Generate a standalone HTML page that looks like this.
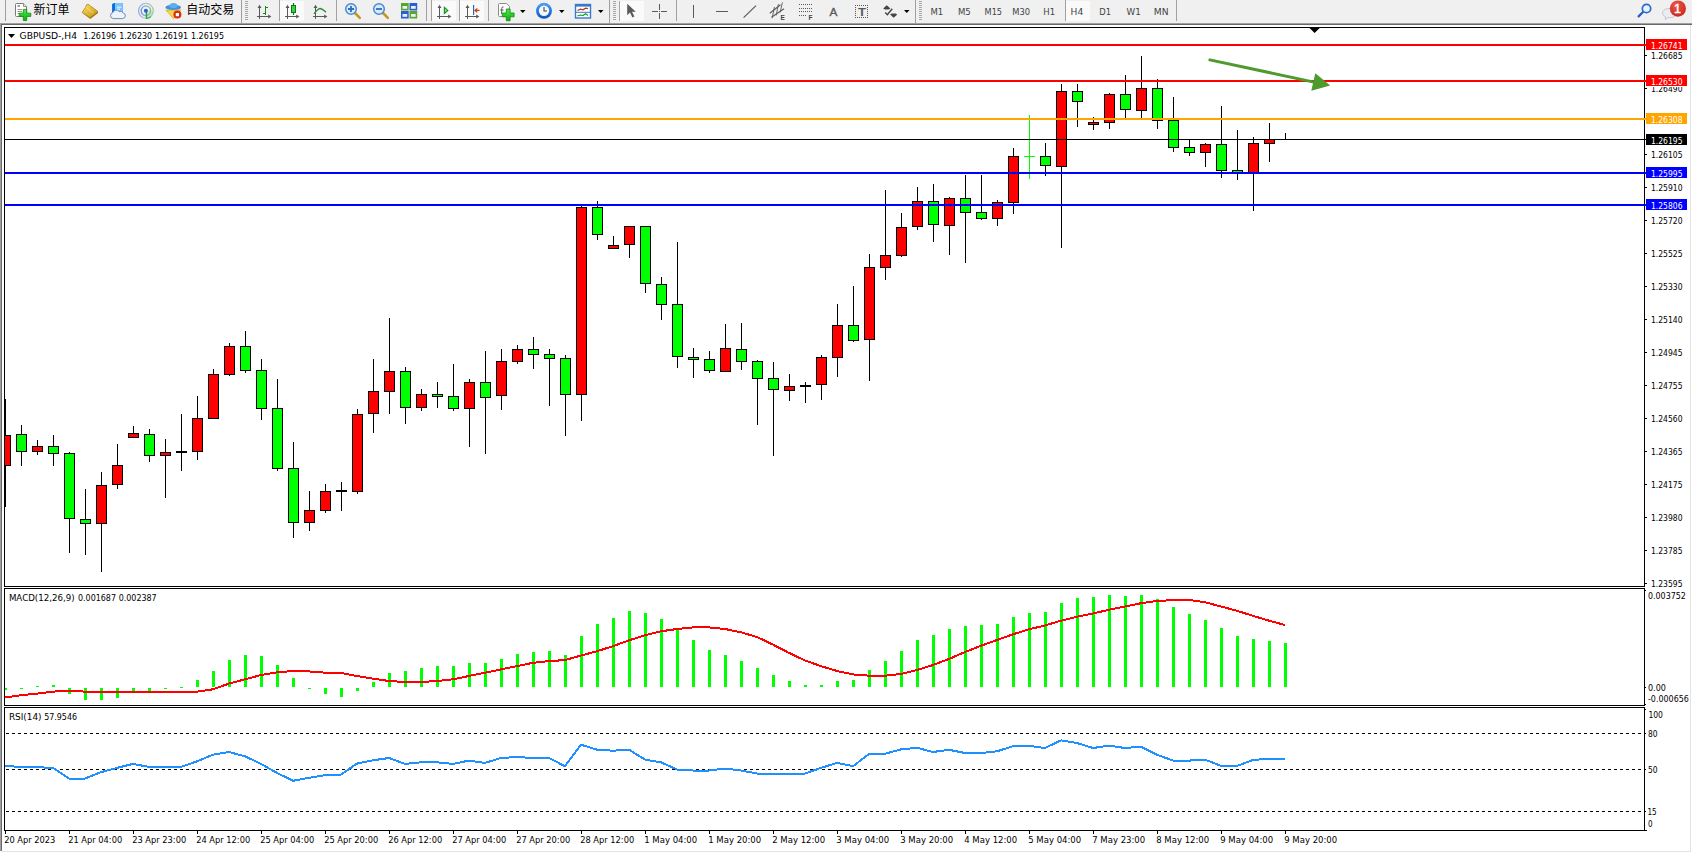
<!DOCTYPE html>
<html><head><meta charset="utf-8"><title>GBPUSD-,H4</title>
<style>
html,body{margin:0;padding:0;background:#fff}
body{width:1692px;height:853px;overflow:hidden;position:relative}
svg{position:absolute;left:0;top:0;display:block}
text{font-family:"Liberation Sans","Noto Sans CJK SC",sans-serif;white-space:pre}
.s{font-family:"DejaVu Sans Condensed","Liberation Sans",sans-serif}
.px{shape-rendering:crispEdges}
</style></head><body>
<svg width="1692" height="853" viewBox="0 0 1692 853">
<g class="px">
<rect x="0" y="0" width="1692" height="23" fill="#f0f0f0"/>
<rect x="0" y="23" width="1692" height="1" fill="#a0a0a0"/>
<rect x="0" y="24" width="1692" height="1" fill="#696969"/>
<rect x="0" y="23" width="1" height="828" fill="#a0a0a0"/>
<rect x="1" y="24" width="1" height="827" fill="#696969"/>
<rect x="1690" y="25" width="1" height="827" fill="#e3e3e3"/>
<rect x="2" y="851" width="1689" height="1" fill="#e3e3e3"/>
<rect x="4" y="27" width="1" height="804" fill="#000"/>
<rect x="4" y="27" width="1641" height="1" fill="#000"/>
<rect x="1644" y="27" width="1" height="804" fill="#000"/>
<rect x="4" y="586" width="1641" height="1" fill="#000"/>
<rect x="4" y="588" width="1641" height="1" fill="#000"/>
<rect x="4" y="705" width="1641" height="1" fill="#000"/>
<rect x="4" y="707" width="1641" height="1" fill="#000"/>
<rect x="4" y="830" width="1643" height="1" fill="#000"/>
<rect x="4" y="587" width="1" height="1" fill="#fff"/>
<rect x="1644" y="587" width="1" height="1" fill="#fff"/>
<rect x="4" y="706" width="1" height="1" fill="#fff"/>
<rect x="1644" y="706" width="1" height="1" fill="#fff"/>
<polygon points="1309.5,28 1319.7,28 1314.6,33.1" fill="#000" shape-rendering="auto"/>
<rect x="5" y="399" width="1" height="108" fill="#000"/>
<rect x="5" y="435" width="6" height="31" fill="#000"/>
<rect x="5" y="436" width="5" height="29" fill="#ff0000"/>
<rect x="21" y="425" width="1" height="41" fill="#000"/>
<rect x="16" y="434" width="11" height="18" fill="#000"/>
<rect x="17" y="435" width="9" height="16" fill="#00ff00"/>
<rect x="37" y="440" width="1" height="15" fill="#000"/>
<rect x="32" y="446" width="11" height="6" fill="#000"/>
<rect x="33" y="447" width="9" height="4" fill="#ff0000"/>
<rect x="53" y="435" width="1" height="31" fill="#000"/>
<rect x="48" y="446" width="11" height="8" fill="#000"/>
<rect x="49" y="447" width="9" height="6" fill="#00ff00"/>
<rect x="69" y="452" width="1" height="101" fill="#000"/>
<rect x="64" y="453" width="11" height="66" fill="#000"/>
<rect x="65" y="454" width="9" height="64" fill="#00ff00"/>
<rect x="85" y="489" width="1" height="66" fill="#000"/>
<rect x="80" y="519" width="11" height="5" fill="#000"/>
<rect x="81" y="520" width="9" height="3" fill="#00ff00"/>
<rect x="101" y="472" width="1" height="100" fill="#000"/>
<rect x="96" y="485" width="11" height="39" fill="#000"/>
<rect x="97" y="486" width="9" height="37" fill="#ff0000"/>
<rect x="117" y="444" width="1" height="45" fill="#000"/>
<rect x="112" y="465" width="11" height="20" fill="#000"/>
<rect x="113" y="466" width="9" height="18" fill="#ff0000"/>
<rect x="133" y="426" width="1" height="12" fill="#000"/>
<rect x="128" y="433" width="11" height="5" fill="#000"/>
<rect x="129" y="434" width="9" height="3" fill="#ff0000"/>
<rect x="149" y="429" width="1" height="33" fill="#000"/>
<rect x="144" y="434" width="11" height="22" fill="#000"/>
<rect x="145" y="435" width="9" height="20" fill="#00ff00"/>
<rect x="165" y="439" width="1" height="59" fill="#000"/>
<rect x="160" y="452" width="11" height="4" fill="#000"/>
<rect x="161" y="453" width="9" height="2" fill="#ff0000"/>
<rect x="181" y="414" width="1" height="57" fill="#000"/>
<rect x="176" y="451" width="11" height="2" fill="#000"/>
<rect x="197" y="396" width="1" height="64" fill="#000"/>
<rect x="192" y="418" width="11" height="34" fill="#000"/>
<rect x="193" y="419" width="9" height="32" fill="#ff0000"/>
<rect x="213" y="369" width="1" height="50" fill="#000"/>
<rect x="208" y="374" width="11" height="45" fill="#000"/>
<rect x="209" y="375" width="9" height="43" fill="#ff0000"/>
<rect x="229" y="343" width="1" height="33" fill="#000"/>
<rect x="224" y="346" width="11" height="29" fill="#000"/>
<rect x="225" y="347" width="9" height="27" fill="#ff0000"/>
<rect x="245" y="331" width="1" height="42" fill="#000"/>
<rect x="240" y="346" width="11" height="25" fill="#000"/>
<rect x="241" y="347" width="9" height="23" fill="#00ff00"/>
<rect x="261" y="359" width="1" height="61" fill="#000"/>
<rect x="256" y="370" width="11" height="39" fill="#000"/>
<rect x="257" y="371" width="9" height="37" fill="#00ff00"/>
<rect x="277" y="379" width="1" height="92" fill="#000"/>
<rect x="272" y="408" width="11" height="61" fill="#000"/>
<rect x="273" y="409" width="9" height="59" fill="#00ff00"/>
<rect x="293" y="442" width="1" height="96" fill="#000"/>
<rect x="288" y="468" width="11" height="55" fill="#000"/>
<rect x="289" y="469" width="9" height="53" fill="#00ff00"/>
<rect x="309" y="491" width="1" height="40" fill="#000"/>
<rect x="304" y="510" width="11" height="13" fill="#000"/>
<rect x="305" y="511" width="9" height="11" fill="#ff0000"/>
<rect x="325" y="484" width="1" height="29" fill="#000"/>
<rect x="320" y="491" width="11" height="20" fill="#000"/>
<rect x="321" y="492" width="9" height="18" fill="#ff0000"/>
<rect x="341" y="482" width="1" height="29" fill="#000"/>
<rect x="336" y="490" width="11" height="2" fill="#000"/>
<rect x="357" y="409" width="1" height="85" fill="#000"/>
<rect x="352" y="414" width="11" height="78" fill="#000"/>
<rect x="353" y="415" width="9" height="76" fill="#ff0000"/>
<rect x="373" y="359" width="1" height="74" fill="#000"/>
<rect x="368" y="391" width="11" height="23" fill="#000"/>
<rect x="369" y="392" width="9" height="21" fill="#ff0000"/>
<rect x="389" y="318" width="1" height="96" fill="#000"/>
<rect x="384" y="371" width="11" height="21" fill="#000"/>
<rect x="385" y="372" width="9" height="19" fill="#ff0000"/>
<rect x="405" y="367" width="1" height="57" fill="#000"/>
<rect x="400" y="371" width="11" height="37" fill="#000"/>
<rect x="401" y="372" width="9" height="35" fill="#00ff00"/>
<rect x="421" y="389" width="1" height="22" fill="#000"/>
<rect x="416" y="394" width="11" height="14" fill="#000"/>
<rect x="417" y="395" width="9" height="12" fill="#ff0000"/>
<rect x="437" y="382" width="1" height="26" fill="#000"/>
<rect x="432" y="394" width="11" height="3" fill="#000"/>
<rect x="433" y="395" width="9" height="1" fill="#00ff00"/>
<rect x="453" y="364" width="1" height="47" fill="#000"/>
<rect x="448" y="396" width="11" height="13" fill="#000"/>
<rect x="449" y="397" width="9" height="11" fill="#00ff00"/>
<rect x="469" y="379" width="1" height="68" fill="#000"/>
<rect x="464" y="382" width="11" height="27" fill="#000"/>
<rect x="465" y="383" width="9" height="25" fill="#ff0000"/>
<rect x="485" y="351" width="1" height="103" fill="#000"/>
<rect x="480" y="382" width="11" height="16" fill="#000"/>
<rect x="481" y="383" width="9" height="14" fill="#00ff00"/>
<rect x="501" y="349" width="1" height="61" fill="#000"/>
<rect x="496" y="361" width="11" height="35" fill="#000"/>
<rect x="497" y="362" width="9" height="33" fill="#ff0000"/>
<rect x="517" y="345" width="1" height="19" fill="#000"/>
<rect x="512" y="349" width="11" height="13" fill="#000"/>
<rect x="513" y="350" width="9" height="11" fill="#ff0000"/>
<rect x="533" y="337" width="1" height="32" fill="#000"/>
<rect x="528" y="349" width="11" height="6" fill="#000"/>
<rect x="529" y="350" width="9" height="4" fill="#00ff00"/>
<rect x="549" y="349" width="1" height="57" fill="#000"/>
<rect x="544" y="354" width="11" height="5" fill="#000"/>
<rect x="545" y="355" width="9" height="3" fill="#00ff00"/>
<rect x="565" y="355" width="1" height="81" fill="#000"/>
<rect x="560" y="358" width="11" height="37" fill="#000"/>
<rect x="561" y="359" width="9" height="35" fill="#00ff00"/>
<rect x="581" y="205" width="1" height="216" fill="#000"/>
<rect x="576" y="207" width="11" height="188" fill="#000"/>
<rect x="577" y="208" width="9" height="186" fill="#ff0000"/>
<rect x="597" y="201" width="1" height="39" fill="#000"/>
<rect x="592" y="207" width="11" height="28" fill="#000"/>
<rect x="593" y="208" width="9" height="26" fill="#00ff00"/>
<rect x="613" y="236" width="1" height="13" fill="#000"/>
<rect x="608" y="245" width="11" height="4" fill="#000"/>
<rect x="609" y="246" width="9" height="2" fill="#ff0000"/>
<rect x="629" y="226" width="1" height="32" fill="#000"/>
<rect x="624" y="226" width="11" height="19" fill="#000"/>
<rect x="625" y="227" width="9" height="17" fill="#ff0000"/>
<rect x="645" y="226" width="1" height="67" fill="#000"/>
<rect x="640" y="226" width="11" height="58" fill="#000"/>
<rect x="641" y="227" width="9" height="56" fill="#00ff00"/>
<rect x="661" y="277" width="1" height="43" fill="#000"/>
<rect x="656" y="284" width="11" height="21" fill="#000"/>
<rect x="657" y="285" width="9" height="19" fill="#00ff00"/>
<rect x="677" y="242" width="1" height="126" fill="#000"/>
<rect x="672" y="304" width="11" height="53" fill="#000"/>
<rect x="673" y="305" width="9" height="51" fill="#00ff00"/>
<rect x="693" y="348" width="1" height="30" fill="#000"/>
<rect x="688" y="357" width="11" height="3" fill="#000"/>
<rect x="689" y="358" width="9" height="1" fill="#00ff00"/>
<rect x="709" y="351" width="1" height="22" fill="#000"/>
<rect x="704" y="359" width="11" height="12" fill="#000"/>
<rect x="705" y="360" width="9" height="10" fill="#00ff00"/>
<rect x="725" y="324" width="1" height="48" fill="#000"/>
<rect x="720" y="348" width="11" height="24" fill="#000"/>
<rect x="721" y="349" width="9" height="22" fill="#ff0000"/>
<rect x="741" y="323" width="1" height="47" fill="#000"/>
<rect x="736" y="349" width="11" height="13" fill="#000"/>
<rect x="737" y="350" width="9" height="11" fill="#00ff00"/>
<rect x="757" y="360" width="1" height="65" fill="#000"/>
<rect x="752" y="361" width="11" height="18" fill="#000"/>
<rect x="753" y="362" width="9" height="16" fill="#00ff00"/>
<rect x="773" y="362" width="1" height="94" fill="#000"/>
<rect x="768" y="378" width="11" height="12" fill="#000"/>
<rect x="769" y="379" width="9" height="10" fill="#00ff00"/>
<rect x="789" y="374" width="1" height="27" fill="#000"/>
<rect x="784" y="386" width="11" height="5" fill="#000"/>
<rect x="785" y="387" width="9" height="3" fill="#ff0000"/>
<rect x="805" y="382" width="1" height="21" fill="#000"/>
<rect x="800" y="385" width="11" height="2" fill="#000"/>
<rect x="821" y="355" width="1" height="45" fill="#000"/>
<rect x="816" y="357" width="11" height="28" fill="#000"/>
<rect x="817" y="358" width="9" height="26" fill="#ff0000"/>
<rect x="837" y="304" width="1" height="73" fill="#000"/>
<rect x="832" y="325" width="11" height="33" fill="#000"/>
<rect x="833" y="326" width="9" height="31" fill="#ff0000"/>
<rect x="853" y="286" width="1" height="56" fill="#000"/>
<rect x="848" y="325" width="11" height="16" fill="#000"/>
<rect x="849" y="326" width="9" height="14" fill="#00ff00"/>
<rect x="869" y="254" width="1" height="127" fill="#000"/>
<rect x="864" y="267" width="11" height="73" fill="#000"/>
<rect x="865" y="268" width="9" height="71" fill="#ff0000"/>
<rect x="885" y="190" width="1" height="90" fill="#000"/>
<rect x="880" y="255" width="11" height="13" fill="#000"/>
<rect x="881" y="256" width="9" height="11" fill="#ff0000"/>
<rect x="901" y="213" width="1" height="44" fill="#000"/>
<rect x="896" y="227" width="11" height="29" fill="#000"/>
<rect x="897" y="228" width="9" height="27" fill="#ff0000"/>
<rect x="917" y="187" width="1" height="43" fill="#000"/>
<rect x="912" y="201" width="11" height="26" fill="#000"/>
<rect x="913" y="202" width="9" height="24" fill="#ff0000"/>
<rect x="933" y="184" width="1" height="58" fill="#000"/>
<rect x="928" y="201" width="11" height="24" fill="#000"/>
<rect x="929" y="202" width="9" height="22" fill="#00ff00"/>
<rect x="949" y="197" width="1" height="58" fill="#000"/>
<rect x="944" y="198" width="11" height="28" fill="#000"/>
<rect x="945" y="199" width="9" height="26" fill="#ff0000"/>
<rect x="965" y="175" width="1" height="88" fill="#000"/>
<rect x="960" y="198" width="11" height="15" fill="#000"/>
<rect x="961" y="199" width="9" height="13" fill="#00ff00"/>
<rect x="981" y="175" width="1" height="45" fill="#000"/>
<rect x="976" y="212" width="11" height="7" fill="#000"/>
<rect x="977" y="213" width="9" height="5" fill="#00ff00"/>
<rect x="997" y="200" width="1" height="26" fill="#000"/>
<rect x="992" y="202" width="11" height="17" fill="#000"/>
<rect x="993" y="203" width="9" height="15" fill="#ff0000"/>
<rect x="1013" y="148" width="1" height="66" fill="#000"/>
<rect x="1008" y="156" width="11" height="47" fill="#000"/>
<rect x="1009" y="157" width="9" height="45" fill="#ff0000"/>
<rect x="1029" y="115" width="1" height="64" fill="#00ff00"/>
<rect x="1024" y="156" width="11" height="1" fill="#00ff00"/>
<rect x="1045" y="143" width="1" height="33" fill="#000"/>
<rect x="1040" y="156" width="11" height="10" fill="#000"/>
<rect x="1041" y="157" width="9" height="8" fill="#00ff00"/>
<rect x="1061" y="84" width="1" height="164" fill="#000"/>
<rect x="1056" y="91" width="11" height="76" fill="#000"/>
<rect x="1057" y="92" width="9" height="74" fill="#ff0000"/>
<rect x="1077" y="84" width="1" height="43" fill="#000"/>
<rect x="1072" y="91" width="11" height="11" fill="#000"/>
<rect x="1073" y="92" width="9" height="9" fill="#00ff00"/>
<rect x="1093" y="117" width="1" height="13" fill="#000"/>
<rect x="1088" y="122" width="11" height="3" fill="#000"/>
<rect x="1089" y="123" width="9" height="1" fill="#ff0000"/>
<rect x="1109" y="93" width="1" height="36" fill="#000"/>
<rect x="1104" y="94" width="11" height="29" fill="#000"/>
<rect x="1105" y="95" width="9" height="27" fill="#ff0000"/>
<rect x="1125" y="75" width="1" height="43" fill="#000"/>
<rect x="1120" y="94" width="11" height="16" fill="#000"/>
<rect x="1121" y="95" width="9" height="14" fill="#00ff00"/>
<rect x="1141" y="56" width="1" height="62" fill="#000"/>
<rect x="1136" y="88" width="11" height="23" fill="#000"/>
<rect x="1137" y="89" width="9" height="21" fill="#ff0000"/>
<rect x="1157" y="79" width="1" height="50" fill="#000"/>
<rect x="1152" y="88" width="11" height="33" fill="#000"/>
<rect x="1153" y="89" width="9" height="31" fill="#00ff00"/>
<rect x="1173" y="97" width="1" height="55" fill="#000"/>
<rect x="1168" y="120" width="11" height="28" fill="#000"/>
<rect x="1169" y="121" width="9" height="26" fill="#00ff00"/>
<rect x="1189" y="139" width="1" height="17" fill="#000"/>
<rect x="1184" y="147" width="11" height="6" fill="#000"/>
<rect x="1185" y="148" width="9" height="4" fill="#00ff00"/>
<rect x="1205" y="143" width="1" height="24" fill="#000"/>
<rect x="1200" y="144" width="11" height="9" fill="#000"/>
<rect x="1201" y="145" width="9" height="7" fill="#ff0000"/>
<rect x="1221" y="106" width="1" height="72" fill="#000"/>
<rect x="1216" y="144" width="11" height="27" fill="#000"/>
<rect x="1217" y="145" width="9" height="25" fill="#00ff00"/>
<rect x="1237" y="130" width="1" height="50" fill="#000"/>
<rect x="1232" y="170" width="11" height="3" fill="#000"/>
<rect x="1233" y="171" width="9" height="1" fill="#00ff00"/>
<rect x="1253" y="137" width="1" height="74" fill="#000"/>
<rect x="1248" y="143" width="11" height="30" fill="#000"/>
<rect x="1249" y="144" width="9" height="28" fill="#ff0000"/>
<rect x="1269" y="123" width="1" height="39" fill="#000"/>
<rect x="1264" y="139" width="11" height="5" fill="#000"/>
<rect x="1265" y="140" width="9" height="3" fill="#ff0000"/>
<rect x="1285" y="133" width="1" height="7" fill="#000"/>
<rect x="5" y="44" width="1641" height="2" fill="#ff0000"/>
<rect x="5" y="80" width="1641" height="2" fill="#ff0000"/>
<rect x="5" y="118" width="1641" height="2" fill="#ffa500"/>
<rect x="5" y="172" width="1641" height="2" fill="#0000ff"/>
<rect x="5" y="204" width="1641" height="2" fill="#0000ff"/>
<rect x="5" y="139" width="1641" height="1" fill="#000"/>
<rect x="5" y="688" width="2" height="2" fill="#00ff00"/>
<rect x="20" y="688" width="3" height="1" fill="#00ff00"/>
<rect x="36" y="686" width="3" height="1" fill="#00ff00"/>
<rect x="52" y="685" width="3" height="2" fill="#00ff00"/>
<rect x="68" y="688" width="3" height="6" fill="#00ff00"/>
<rect x="84" y="688" width="3" height="12" fill="#00ff00"/>
<rect x="100" y="688" width="3" height="12" fill="#00ff00"/>
<rect x="116" y="688" width="3" height="10" fill="#00ff00"/>
<rect x="132" y="688" width="3" height="4" fill="#00ff00"/>
<rect x="148" y="688" width="3" height="3" fill="#00ff00"/>
<rect x="164" y="688" width="3" height="1" fill="#00ff00"/>
<rect x="180" y="687" width="3" height="1" fill="#00ff00"/>
<rect x="196" y="680" width="3" height="7" fill="#00ff00"/>
<rect x="212" y="671" width="3" height="16" fill="#00ff00"/>
<rect x="228" y="660" width="3" height="27" fill="#00ff00"/>
<rect x="244" y="655" width="3" height="32" fill="#00ff00"/>
<rect x="260" y="656" width="3" height="31" fill="#00ff00"/>
<rect x="276" y="665" width="3" height="22" fill="#00ff00"/>
<rect x="292" y="678" width="3" height="9" fill="#00ff00"/>
<rect x="308" y="688" width="3" height="1" fill="#00ff00"/>
<rect x="324" y="688" width="3" height="6" fill="#00ff00"/>
<rect x="340" y="688" width="3" height="9" fill="#00ff00"/>
<rect x="356" y="688" width="3" height="3" fill="#00ff00"/>
<rect x="372" y="682" width="3" height="5" fill="#00ff00"/>
<rect x="388" y="673" width="3" height="14" fill="#00ff00"/>
<rect x="404" y="671" width="3" height="16" fill="#00ff00"/>
<rect x="420" y="668" width="3" height="19" fill="#00ff00"/>
<rect x="436" y="666" width="3" height="21" fill="#00ff00"/>
<rect x="452" y="666" width="3" height="21" fill="#00ff00"/>
<rect x="468" y="663" width="3" height="24" fill="#00ff00"/>
<rect x="484" y="663" width="3" height="24" fill="#00ff00"/>
<rect x="500" y="659" width="3" height="28" fill="#00ff00"/>
<rect x="516" y="654" width="3" height="33" fill="#00ff00"/>
<rect x="532" y="652" width="3" height="35" fill="#00ff00"/>
<rect x="548" y="651" width="3" height="36" fill="#00ff00"/>
<rect x="564" y="655" width="3" height="32" fill="#00ff00"/>
<rect x="580" y="636" width="3" height="51" fill="#00ff00"/>
<rect x="596" y="624" width="3" height="63" fill="#00ff00"/>
<rect x="612" y="618" width="3" height="69" fill="#00ff00"/>
<rect x="628" y="611" width="3" height="76" fill="#00ff00"/>
<rect x="644" y="613" width="3" height="74" fill="#00ff00"/>
<rect x="660" y="619" width="3" height="68" fill="#00ff00"/>
<rect x="676" y="630" width="3" height="57" fill="#00ff00"/>
<rect x="692" y="640" width="3" height="47" fill="#00ff00"/>
<rect x="708" y="650" width="3" height="37" fill="#00ff00"/>
<rect x="724" y="655" width="3" height="32" fill="#00ff00"/>
<rect x="740" y="661" width="3" height="26" fill="#00ff00"/>
<rect x="756" y="668" width="3" height="19" fill="#00ff00"/>
<rect x="772" y="675" width="3" height="12" fill="#00ff00"/>
<rect x="788" y="681" width="3" height="6" fill="#00ff00"/>
<rect x="804" y="685" width="3" height="2" fill="#00ff00"/>
<rect x="820" y="685" width="3" height="2" fill="#00ff00"/>
<rect x="836" y="681" width="3" height="6" fill="#00ff00"/>
<rect x="852" y="680" width="3" height="7" fill="#00ff00"/>
<rect x="868" y="670" width="3" height="17" fill="#00ff00"/>
<rect x="884" y="661" width="3" height="26" fill="#00ff00"/>
<rect x="900" y="651" width="3" height="36" fill="#00ff00"/>
<rect x="916" y="640" width="3" height="47" fill="#00ff00"/>
<rect x="932" y="635" width="3" height="52" fill="#00ff00"/>
<rect x="948" y="629" width="3" height="58" fill="#00ff00"/>
<rect x="964" y="626" width="3" height="61" fill="#00ff00"/>
<rect x="980" y="625" width="3" height="62" fill="#00ff00"/>
<rect x="996" y="624" width="3" height="63" fill="#00ff00"/>
<rect x="1012" y="617" width="3" height="70" fill="#00ff00"/>
<rect x="1028" y="613" width="3" height="74" fill="#00ff00"/>
<rect x="1044" y="612" width="3" height="75" fill="#00ff00"/>
<rect x="1060" y="603" width="3" height="84" fill="#00ff00"/>
<rect x="1076" y="598" width="3" height="89" fill="#00ff00"/>
<rect x="1092" y="597" width="3" height="90" fill="#00ff00"/>
<rect x="1108" y="595" width="3" height="92" fill="#00ff00"/>
<rect x="1124" y="596" width="3" height="91" fill="#00ff00"/>
<rect x="1140" y="595" width="3" height="92" fill="#00ff00"/>
<rect x="1156" y="599" width="3" height="88" fill="#00ff00"/>
<rect x="1172" y="607" width="3" height="80" fill="#00ff00"/>
<rect x="1188" y="614" width="3" height="73" fill="#00ff00"/>
<rect x="1204" y="620" width="3" height="67" fill="#00ff00"/>
<rect x="1220" y="628" width="3" height="59" fill="#00ff00"/>
<rect x="1236" y="636" width="3" height="51" fill="#00ff00"/>
<rect x="1252" y="639" width="3" height="48" fill="#00ff00"/>
<rect x="1268" y="641" width="3" height="46" fill="#00ff00"/>
<rect x="1284" y="643" width="3" height="44" fill="#00ff00"/>
<line x1="6" x2="1643" y1="733.5" y2="733.5" stroke="#000" stroke-width="1" stroke-dasharray="3 3"/>
<line x1="6" x2="1643" y1="769.5" y2="769.5" stroke="#000" stroke-width="1" stroke-dasharray="3 3"/>
<line x1="6" x2="1643" y1="811.5" y2="811.5" stroke="#000" stroke-width="1" stroke-dasharray="3 3"/>
<rect x="1645" y="55" width="2" height="1" fill="#000"/>
<rect x="1645" y="88" width="2" height="1" fill="#000"/>
<rect x="1645" y="154" width="2" height="1" fill="#000"/>
<rect x="1645" y="187" width="2" height="1" fill="#000"/>
<rect x="1645" y="220" width="2" height="1" fill="#000"/>
<rect x="1645" y="253" width="2" height="1" fill="#000"/>
<rect x="1645" y="286" width="2" height="1" fill="#000"/>
<rect x="1645" y="319" width="2" height="1" fill="#000"/>
<rect x="1645" y="352" width="2" height="1" fill="#000"/>
<rect x="1645" y="385" width="2" height="1" fill="#000"/>
<rect x="1645" y="418" width="2" height="1" fill="#000"/>
<rect x="1645" y="451" width="2" height="1" fill="#000"/>
<rect x="1645" y="484" width="2" height="1" fill="#000"/>
<rect x="1645" y="517" width="2" height="1" fill="#000"/>
<rect x="1645" y="550" width="2" height="1" fill="#000"/>
<rect x="1645" y="583" width="2" height="1" fill="#000"/>
<rect x="1645" y="590" width="1" height="1" fill="#000"/>
<rect x="1645" y="687" width="1" height="1" fill="#000"/>
<rect x="1645" y="704" width="1" height="1" fill="#000"/>
<rect x="1645" y="709" width="1" height="1" fill="#000"/>
<rect x="1645" y="733" width="1" height="1" fill="#000"/>
<rect x="1645" y="769" width="1" height="1" fill="#000"/>
<rect x="1645" y="811" width="1" height="1" fill="#000"/>
<rect x="5" y="831" width="1" height="3" fill="#000"/>
<rect x="69" y="831" width="1" height="3" fill="#000"/>
<rect x="133" y="831" width="1" height="3" fill="#000"/>
<rect x="197" y="831" width="1" height="3" fill="#000"/>
<rect x="261" y="831" width="1" height="3" fill="#000"/>
<rect x="325" y="831" width="1" height="3" fill="#000"/>
<rect x="389" y="831" width="1" height="3" fill="#000"/>
<rect x="453" y="831" width="1" height="3" fill="#000"/>
<rect x="517" y="831" width="1" height="3" fill="#000"/>
<rect x="581" y="831" width="1" height="3" fill="#000"/>
<rect x="645" y="831" width="1" height="3" fill="#000"/>
<rect x="709" y="831" width="1" height="3" fill="#000"/>
<rect x="773" y="831" width="1" height="3" fill="#000"/>
<rect x="837" y="831" width="1" height="3" fill="#000"/>
<rect x="901" y="831" width="1" height="3" fill="#000"/>
<rect x="965" y="831" width="1" height="3" fill="#000"/>
<rect x="1029" y="831" width="1" height="3" fill="#000"/>
<rect x="1093" y="831" width="1" height="3" fill="#000"/>
<rect x="1157" y="831" width="1" height="3" fill="#000"/>
<rect x="1221" y="831" width="1" height="3" fill="#000"/>
<rect x="1285" y="831" width="1" height="3" fill="#000"/>
<rect x="1646" y="39" width="41" height="11" fill="#ff0000"/>
<rect x="1646" y="75" width="41" height="11" fill="#ff0000"/>
<rect x="1646" y="113" width="41" height="11" fill="#ffa500"/>
<rect x="1646" y="167" width="41" height="11" fill="#0000ff"/>
<rect x="1646" y="199" width="41" height="11" fill="#0000ff"/>
<rect x="1646" y="134" width="41" height="11" fill="#000"/>
</g>
<polyline points="5,697.5 21,695.2 37,693.6 53,691.6 69,690.9 85,691.6 101,691.6 117,691.6 133,691.6 149,691.6 165,691.6 181,691.6 197,691.6 213,689.3 229,683.6 245,679.3 261,675 277,672.4 293,671 309,671.4 325,672.7 341,673 357,676 373,678.7 389,681 405,682 421,682 437,681 453,679.3 469,676 485,672.7 501,669.4 517,666.1 533,662.8 549,661.1 565,660.1 581,655.5 597,651.2 613,646.2 629,640.3 645,635.3 661,631.3 677,629 693,627.4 709,627.4 725,629 741,632.3 757,637 773,644.6 789,652.9 805,660.5 821,666.1 837,671 853,674.4 869,675.7 885,675.7 901,674 917,670 933,665 949,659 965,652 981,645.7 997,640 1013,634.3 1029,629.3 1045,625.5 1061,620.7 1077,616.8 1093,613.5 1109,609.8 1125,606.5 1141,603.2 1157,600.9 1173,600.2 1189,599.9 1205,602.2 1221,606.5 1237,610.8 1253,615.8 1269,620.7 1285,625" fill="none" stroke="#ff0000" stroke-width="2" stroke-linejoin="round" shape-rendering="crispEdges"/>
<polyline points="5,765.6 21,767.2 37,767.2 53,767.9 69,778.5 85,778.5 101,772.2 117,767.9 133,763.9 149,766.9 165,766.9 181,766.9 197,761.3 213,754.7 229,752 245,756.3 261,763.9 277,772.9 293,780.8 309,777.8 325,775.2 341,774.5 357,763.6 373,760.3 389,758 405,763.9 421,762.3 437,762.3 453,763.9 469,760.6 485,762.9 501,758 517,757 533,758 549,758 565,766.2 581,744.7 597,749.7 613,750.7 629,749.7 645,759.6 661,762.3 677,769.5 693,770.5 709,770.5 725,768.6 741,770.5 757,773.5 773,773.5 789,773.5 805,773.5 821,767.9 837,762.9 853,766.2 869,754 885,753.7 901,749.4 917,747.8 933,752 949,749.8 965,753 981,753 997,751.3 1013,746.2 1029,745.8 1045,748 1061,740.4 1077,743 1093,748 1109,745.7 1125,748 1141,746.7 1157,754.7 1173,760.6 1189,760.6 1205,759.6 1221,765.9 1237,765.9 1253,760 1269,758.6 1285,758.6" fill="none" stroke="#1e90ff" stroke-width="2" stroke-linejoin="round" shape-rendering="crispEdges"/>
<line x1="1208.6" y1="59.6" x2="1314" y2="82.1" stroke="#4e9a2c" stroke-width="3"/>
<polygon points="1330.2,85.4 1315.3,73.3 1311.3,90.8" fill="#4e9a2c"/>
<text class="s" x="1651" y="59" font-size="9.33" fill="#000" textLength="31.5" lengthAdjust="spacingAndGlyphs" text-anchor="start">1.26685</text>
<text class="s" x="1651" y="158" font-size="9.33" fill="#000" textLength="31.5" lengthAdjust="spacingAndGlyphs" text-anchor="start">1.26105</text>
<text class="s" x="1651" y="191" font-size="9.33" fill="#000" textLength="31.5" lengthAdjust="spacingAndGlyphs" text-anchor="start">1.25910</text>
<text class="s" x="1651" y="224" font-size="9.33" fill="#000" textLength="31.5" lengthAdjust="spacingAndGlyphs" text-anchor="start">1.25720</text>
<text class="s" x="1651" y="257" font-size="9.33" fill="#000" textLength="31.5" lengthAdjust="spacingAndGlyphs" text-anchor="start">1.25525</text>
<text class="s" x="1651" y="290" font-size="9.33" fill="#000" textLength="31.5" lengthAdjust="spacingAndGlyphs" text-anchor="start">1.25330</text>
<text class="s" x="1651" y="323" font-size="9.33" fill="#000" textLength="31.5" lengthAdjust="spacingAndGlyphs" text-anchor="start">1.25140</text>
<text class="s" x="1651" y="356" font-size="9.33" fill="#000" textLength="31.5" lengthAdjust="spacingAndGlyphs" text-anchor="start">1.24945</text>
<text class="s" x="1651" y="389" font-size="9.33" fill="#000" textLength="31.5" lengthAdjust="spacingAndGlyphs" text-anchor="start">1.24755</text>
<text class="s" x="1651" y="422" font-size="9.33" fill="#000" textLength="31.5" lengthAdjust="spacingAndGlyphs" text-anchor="start">1.24560</text>
<text class="s" x="1651" y="455" font-size="9.33" fill="#000" textLength="31.5" lengthAdjust="spacingAndGlyphs" text-anchor="start">1.24365</text>
<text class="s" x="1651" y="488" font-size="9.33" fill="#000" textLength="31.5" lengthAdjust="spacingAndGlyphs" text-anchor="start">1.24175</text>
<text class="s" x="1651" y="521" font-size="9.33" fill="#000" textLength="31.5" lengthAdjust="spacingAndGlyphs" text-anchor="start">1.23980</text>
<text class="s" x="1651" y="554" font-size="9.33" fill="#000" textLength="31.5" lengthAdjust="spacingAndGlyphs" text-anchor="start">1.23785</text>
<text class="s" x="1651" y="587" font-size="9.33" fill="#000" textLength="31.5" lengthAdjust="spacingAndGlyphs" text-anchor="start">1.23595</text>
<clipPath id="c1"><rect x="1646" y="87" width="46" height="12"/></clipPath>
<text class="s" x="1651" y="92" font-size="9.33" fill="#000" textLength="31.5" lengthAdjust="spacingAndGlyphs" text-anchor="start" clip-path="url(#c1)">1.26490</text>
<clipPath id="c2"><rect x="1646" y="125" width="46" height="2"/></clipPath>
<text class="s" x="1651" y="124" font-size="9.33" fill="#000" textLength="31.5" lengthAdjust="spacingAndGlyphs" text-anchor="start" clip-path="url(#c2)">1.26300</text>
<text class="s" x="1651" y="49" font-size="9.33" fill="#fff" textLength="31.5" lengthAdjust="spacingAndGlyphs" text-anchor="start">1.26741</text>
<text class="s" x="1651" y="85" font-size="9.33" fill="#fff" textLength="31.5" lengthAdjust="spacingAndGlyphs" text-anchor="start">1.26530</text>
<text class="s" x="1651" y="123" font-size="9.33" fill="#fff" textLength="31.5" lengthAdjust="spacingAndGlyphs" text-anchor="start">1.26308</text>
<text class="s" x="1651" y="177" font-size="9.33" fill="#fff" textLength="31.5" lengthAdjust="spacingAndGlyphs" text-anchor="start">1.25995</text>
<text class="s" x="1651" y="209" font-size="9.33" fill="#fff" textLength="31.5" lengthAdjust="spacingAndGlyphs" text-anchor="start">1.25806</text>
<text class="s" x="1651" y="144" font-size="9.33" fill="#fff" textLength="31.5" lengthAdjust="spacingAndGlyphs" text-anchor="start">1.26195</text>
<text class="s" x="1648" y="599" font-size="9.33" fill="#000" textLength="37.8" lengthAdjust="spacingAndGlyphs" text-anchor="start">0.003752</text>
<text class="s" x="1648" y="691" font-size="9.33" fill="#000" textLength="17.9" lengthAdjust="spacingAndGlyphs" text-anchor="start">0.00</text>
<text class="s" x="1648" y="702" font-size="9.33" fill="#000" textLength="40.8" lengthAdjust="spacingAndGlyphs" text-anchor="start">-0.000656</text>
<text class="s" x="1648.4" y="718" font-size="9.33" fill="#000" textLength="14.6" lengthAdjust="spacingAndGlyphs" text-anchor="start">100</text>
<text class="s" x="1648" y="737" font-size="9.33" fill="#000" textLength="9.6" lengthAdjust="spacingAndGlyphs" text-anchor="start">80</text>
<text class="s" x="1648" y="773" font-size="9.33" fill="#000" textLength="9.6" lengthAdjust="spacingAndGlyphs" text-anchor="start">50</text>
<text class="s" x="1647.5" y="815" font-size="9.33" fill="#000" textLength="9.2" lengthAdjust="spacingAndGlyphs" text-anchor="start">15</text>
<text class="s" x="1648" y="827" font-size="9.33" fill="#000" textLength="4.6" lengthAdjust="spacingAndGlyphs" text-anchor="start">0</text>
<text class="s" x="19.6" y="39" font-size="9.33" fill="#000" textLength="57.4" lengthAdjust="spacingAndGlyphs" text-anchor="start">GBPUSD-,H4</text>
<text class="s" x="83.2" y="39" font-size="9.33" fill="#000" textLength="33.0" lengthAdjust="spacingAndGlyphs" text-anchor="start">1.26196</text>
<text class="s" x="119.13" y="39" font-size="9.33" fill="#000" textLength="33.0" lengthAdjust="spacingAndGlyphs" text-anchor="start">1.26230</text>
<text class="s" x="155.06" y="39" font-size="9.33" fill="#000" textLength="33.0" lengthAdjust="spacingAndGlyphs" text-anchor="start">1.26191</text>
<text class="s" x="190.99" y="39" font-size="9.33" fill="#000" textLength="33.0" lengthAdjust="spacingAndGlyphs" text-anchor="start">1.26195</text>
<polygon points="8,34 15,34 11.5,38" fill="#000"/>
<text class="s" x="8.9" y="601" font-size="9.33" fill="#000" textLength="65.8" lengthAdjust="spacingAndGlyphs" text-anchor="start">MACD(12,26,9)</text>
<text class="s" x="78" y="601" font-size="9.33" fill="#000" textLength="38.0" lengthAdjust="spacingAndGlyphs" text-anchor="start">0.001687</text>
<text class="s" x="118.7" y="601" font-size="9.33" fill="#000" textLength="38.0" lengthAdjust="spacingAndGlyphs" text-anchor="start">0.002387</text>
<text class="s" x="8.9" y="720" font-size="9.33" fill="#000" textLength="32.7" lengthAdjust="spacingAndGlyphs" text-anchor="start">RSI(14)</text>
<text class="s" x="44.2" y="720" font-size="9.33" fill="#000" textLength="32.8" lengthAdjust="spacingAndGlyphs" text-anchor="start">57.9546</text>
<text class="s" x="4.2" y="843" font-size="9.33" fill="#000" textLength="51.2" lengthAdjust="spacingAndGlyphs" text-anchor="start">20 Apr 2023</text>
<text class="s" x="68.2" y="843" font-size="9.33" fill="#000" textLength="54.0" lengthAdjust="spacingAndGlyphs" text-anchor="start">21 Apr 04:00</text>
<text class="s" x="132.2" y="843" font-size="9.33" fill="#000" textLength="54.0" lengthAdjust="spacingAndGlyphs" text-anchor="start">23 Apr 23:00</text>
<text class="s" x="196.2" y="843" font-size="9.33" fill="#000" textLength="54.0" lengthAdjust="spacingAndGlyphs" text-anchor="start">24 Apr 12:00</text>
<text class="s" x="260.2" y="843" font-size="9.33" fill="#000" textLength="54.0" lengthAdjust="spacingAndGlyphs" text-anchor="start">25 Apr 04:00</text>
<text class="s" x="324.2" y="843" font-size="9.33" fill="#000" textLength="54.0" lengthAdjust="spacingAndGlyphs" text-anchor="start">25 Apr 20:00</text>
<text class="s" x="388.2" y="843" font-size="9.33" fill="#000" textLength="54.0" lengthAdjust="spacingAndGlyphs" text-anchor="start">26 Apr 12:00</text>
<text class="s" x="452.2" y="843" font-size="9.33" fill="#000" textLength="54.0" lengthAdjust="spacingAndGlyphs" text-anchor="start">27 Apr 04:00</text>
<text class="s" x="516.2" y="843" font-size="9.33" fill="#000" textLength="54.0" lengthAdjust="spacingAndGlyphs" text-anchor="start">27 Apr 20:00</text>
<text class="s" x="580.2" y="843" font-size="9.33" fill="#000" textLength="54.0" lengthAdjust="spacingAndGlyphs" text-anchor="start">28 Apr 12:00</text>
<text class="s" x="644.2" y="843" font-size="9.33" fill="#000" textLength="53.0" lengthAdjust="spacingAndGlyphs" text-anchor="start">1 May 04:00</text>
<text class="s" x="708.2" y="843" font-size="9.33" fill="#000" textLength="53.0" lengthAdjust="spacingAndGlyphs" text-anchor="start">1 May 20:00</text>
<text class="s" x="772.2" y="843" font-size="9.33" fill="#000" textLength="53.0" lengthAdjust="spacingAndGlyphs" text-anchor="start">2 May 12:00</text>
<text class="s" x="836.2" y="843" font-size="9.33" fill="#000" textLength="53.0" lengthAdjust="spacingAndGlyphs" text-anchor="start">3 May 04:00</text>
<text class="s" x="900.2" y="843" font-size="9.33" fill="#000" textLength="53.0" lengthAdjust="spacingAndGlyphs" text-anchor="start">3 May 20:00</text>
<text class="s" x="964.2" y="843" font-size="9.33" fill="#000" textLength="53.0" lengthAdjust="spacingAndGlyphs" text-anchor="start">4 May 12:00</text>
<text class="s" x="1028.2" y="843" font-size="9.33" fill="#000" textLength="53.0" lengthAdjust="spacingAndGlyphs" text-anchor="start">5 May 04:00</text>
<text class="s" x="1092.2" y="843" font-size="9.33" fill="#000" textLength="53.0" lengthAdjust="spacingAndGlyphs" text-anchor="start">7 May 23:00</text>
<text class="s" x="1156.2" y="843" font-size="9.33" fill="#000" textLength="53.0" lengthAdjust="spacingAndGlyphs" text-anchor="start">8 May 12:00</text>
<text class="s" x="1220.2" y="843" font-size="9.33" fill="#000" textLength="53.0" lengthAdjust="spacingAndGlyphs" text-anchor="start">9 May 04:00</text>
<text class="s" x="1284.2" y="843" font-size="9.33" fill="#000" textLength="53.0" lengthAdjust="spacingAndGlyphs" text-anchor="start">9 May 20:00</text>
<defs><linearGradient id="gGold" x1="0" y1="0" x2="1" y2="1"><stop offset="0" stop-color="#fbe36a"/><stop offset="1" stop-color="#c8900c"/></linearGradient><linearGradient id="gBlue" x1="0" y1="0" x2="0" y2="1"><stop offset="0" stop-color="#4aa3ff"/><stop offset="1" stop-color="#0b4fb8"/></linearGradient><linearGradient id="gGreen" x1="0" y1="0" x2="0" y2="1"><stop offset="0" stop-color="#4cf04c"/><stop offset="1" stop-color="#10a810"/></linearGradient><radialGradient id="gRed" cx=".4" cy=".3" r=".8"><stop offset="0" stop-color="#f0574a"/><stop offset="1" stop-color="#c4231a"/></radialGradient></defs>
<rect class="px" x="5" y="0" width="1" height="21" fill="#a0a0a0"/>
<path d="M16.5 3.5 H23.5 L26.5 6.5 V15.5 a1 1 0 0 1 -1 1 H16.5 a1 1 0 0 1 -1 -1 V4.5 a1 1 0 0 1 1 -1 Z" fill="#fff" stroke="#7a7a7a"/><path d="M23.5 3.5 V6.5 H26.5" fill="#ececec" stroke="#7a7a7a" stroke-width=".8"/><path d="M17.5 6 H20" stroke="#8a8a8a" stroke-width="1.6"/><path d="M17.5 9.5 H22 M17.5 11.5 H22 M17.5 13.5 H20" stroke="#9a9a9a"/>
<path d="M23.3 9.4 H26.7 V13.2 H30.8 V16.4 H26.7 V20.6 H23.3 V16.4 H19.2 V13.2 H23.3 Z" fill="url(#gGreen)" stroke="#0b8a0b" stroke-width=".8"/>
<text x="33.6" y="14" font-size="12" fill="#000">新订单</text>
<path d="M82.4 13 L90.3 18.9 L98.1 13 L97.8 11.4 L90 17.6 L82.2 12.4 Z" fill="#a87608"/><path d="M88 4.2 L97.8 11.4 L90 17.6 L82.2 12.4 L85.6 7.2 Q86 4 88 4.2 Z" fill="url(#gGold)" stroke="#a87608" stroke-width=".7"/><path d="M85.5 7 L93.5 13.2" stroke="#fff3a8" stroke-width=".8" opacity=".7"/>
<path d="M112.2 4 L115 3 H122.8 V12.5 H112.2 Z" fill="#1e8cf0"/><path d="M115 3 H122.8 V12.5 H115 Z" fill="#7cc6ff"/><path d="M112.2 4 L115 3 V12.5 H112.2 Z" fill="#0f6fd8"/><path d="M117 7.2 H121.5 M117 9.2 H120" stroke="#fff" stroke-width=".9"/><path d="M113.3 18.6 a3.1 3.1 0 0 1 -.4 -6.1 a3.6 3.6 0 0 1 6.3 -.9 a3 3 0 0 1 3.9 1.3 a2.9 2.9 0 0 1 -.4 5.7 Z" fill="#eef3fa" stroke="#5d7fb3" stroke-width=".9"/>
<linearGradient id="gSig" x1="0" y1="0" x2="1" y2="0"><stop offset="0" stop-color="#6f98e6"/><stop offset=".5" stop-color="#9db8e0"/><stop offset="1" stop-color="#7fbf86"/></linearGradient>
<g fill="none"><circle cx="145.9" cy="10.8" r="7.4" stroke="url(#gSig)" stroke-width="1.1" opacity=".8"/><circle cx="145.9" cy="10.8" r="4.7" stroke="url(#gSig)" stroke-width="1.5"/><path d="M146.4 18.4 A7.6 7.6 0 0 0 153.4 10.8 L146.4 10.8 Z" fill="#8fd09a" stroke="none" opacity=".4"/><path d="M146.4 10.8 V18.7" stroke="#22a52c" stroke-width="1.4"/><path d="M146.4 18.4 A7.6 7.6 0 0 0 151 16.6" stroke="#35b040" stroke-width="1.2"/></g><circle cx="145.9" cy="10.8" r="2" fill="#2a5fd0"/>
<path d="M166 10.2 L180.7 9.8 L176 16.5 L173.5 18.6 Z" fill="#f8d848" stroke="#c9a010" stroke-width=".7"/><ellipse cx="173.2" cy="7.4" rx="7.8" ry="2.7" fill="#3f92d8"/><ellipse cx="173.5" cy="5.6" rx="4" ry="2.7" fill="#62aeea"/><circle cx="177.4" cy="14.6" r="4" fill="#e22a12"/><rect x="175.8" y="13" width="3.2" height="3.2" fill="#fff"/>
<text x="186.2" y="14" font-size="12" fill="#000">自动交易</text>
<rect class="px" x="241" y="0" width="1" height="23" fill="#a0a0a0"/>
<rect class="px" x="245" y="1" width="3" height="1" fill="#a8a8a8"/>
<rect class="px" x="245" y="3" width="3" height="1" fill="#a8a8a8"/>
<rect class="px" x="245" y="5" width="3" height="1" fill="#a8a8a8"/>
<rect class="px" x="245" y="7" width="3" height="1" fill="#a8a8a8"/>
<rect class="px" x="245" y="9" width="3" height="1" fill="#a8a8a8"/>
<rect class="px" x="245" y="11" width="3" height="1" fill="#a8a8a8"/>
<rect class="px" x="245" y="13" width="3" height="1" fill="#a8a8a8"/>
<rect class="px" x="245" y="15" width="3" height="1" fill="#a8a8a8"/>
<rect class="px" x="245" y="17" width="3" height="1" fill="#a8a8a8"/>
<rect class="px" x="245" y="19" width="3" height="1" fill="#a8a8a8"/>
<rect class="px" x="259" y="6" width="1" height="13" fill="#5a5a5a"/><rect class="px" x="257" y="16" width="13" height="1" fill="#5a5a5a"/>
<path d="M257.5 8 L259.5 4.8 L261.5 8 Z M268.2 14.5 L271.4 16.5 L268.2 18.5 Z" fill="#5a5a5a"/>
<path class="px" d="M265.5 6 V15 M263 13.5 H265 M266 7.5 H268" fill="none" stroke="#118a1c" stroke-width="1"/>
<rect class="px" x="279" y="0" width="1" height="21" fill="#a0a0a0"/>
<rect class="px" x="280" y="1" width="24" height="20" fill="#fafafa"/>
<rect class="px" x="287" y="6" width="1" height="13" fill="#5a5a5a"/><rect class="px" x="285" y="16" width="13" height="1" fill="#5a5a5a"/>
<path d="M285.5 8 L287.5 4.8 L289.5 8 Z M296.2 14.5 L299.4 16.5 L296.2 18.5 Z" fill="#5a5a5a"/>
<path d="M293.5 3 V15" stroke="#0a7a12" stroke-width="1.2"/><rect x="291.5" y="5.5" width="4" height="7" fill="#35d045" stroke="#0a7a12" stroke-width="1"/>
<rect class="px" x="315" y="6" width="1" height="13" fill="#5a5a5a"/><rect class="px" x="313" y="16" width="13" height="1" fill="#5a5a5a"/>
<path d="M313.5 8 L315.5 4.8 L317.5 8 Z M324.2 14.5 L327.4 16.5 L324.2 18.5 Z" fill="#5a5a5a"/>
<path d="M314 13.8 Q318 8.6 320 8.5 Q322 8.5 326 12.2" fill="none" stroke="#2d8a3a" stroke-width="1.3"/>
<rect class="px" x="336" y="0" width="1" height="21" fill="#a0a0a0"/>
<path d="M355 13 L359.8 17.8" stroke="#c9971a" stroke-width="2.6" stroke-linecap="round"/><circle cx="351" cy="9" r="5.3" fill="#d6ebfb" stroke="#4a8ad0" stroke-width="1.5"/><path d="M348 9 H354 M351 6 V12" stroke="#2f6fc0" stroke-width="1.8"/>
<path d="M383 13 L387.8 17.8" stroke="#c9971a" stroke-width="2.6" stroke-linecap="round"/><circle cx="379" cy="9" r="5.3" fill="#d6ebfb" stroke="#4a8ad0" stroke-width="1.5"/><path d="M376 9 H382" stroke="#2f6fc0" stroke-width="1.8"/>
<rect x="401" y="3" width="7.7" height="7.5" fill="#5aa62c"/><rect x="402.5" y="6" width="4.7" height="2.8" fill="#e8f0ff"/>
<rect x="409.5" y="3" width="7.7" height="7.5" fill="#2c5fd0"/><rect x="411.0" y="6" width="4.7" height="2.8" fill="#e8f0ff"/>
<rect x="401" y="11" width="7.7" height="7.5" fill="#2c5fd0"/><rect x="402.5" y="14" width="4.7" height="2.8" fill="#e8f0ff"/>
<rect x="409.5" y="11" width="7.7" height="7.5" fill="#5aa62c"/><rect x="411.0" y="14" width="4.7" height="2.8" fill="#e8f0ff"/>
<rect class="px" x="426" y="0" width="1" height="21" fill="#a0a0a0"/>
<rect class="px" x="431" y="0" width="1" height="21" fill="#a0a0a0"/>
<rect class="px" x="432" y="1" width="24" height="20" fill="#fafafa"/>
<rect class="px" x="439" y="6" width="1" height="13" fill="#5a5a5a"/><rect class="px" x="437" y="16" width="13" height="1" fill="#5a5a5a"/>
<path d="M437.5 8 L439.5 4.8 L441.5 8 Z M448.2 14.5 L451.4 16.5 L448.2 18.5 Z" fill="#5a5a5a"/>
<path d="M444.4 7.4 L447.8 10.4 L444.4 13.4 Z" fill="#8fe09a" stroke="#14961e" stroke-width="1.2"/>
<rect class="px" x="459" y="0" width="1" height="21" fill="#a0a0a0"/>
<rect class="px" x="460" y="1" width="24" height="20" fill="#fafafa"/>
<rect class="px" x="467" y="6" width="1" height="13" fill="#5a5a5a"/><rect class="px" x="465" y="16" width="13" height="1" fill="#5a5a5a"/>
<path d="M465.5 8 L467.5 4.8 L469.5 8 Z M476.2 14.5 L479.4 16.5 L476.2 18.5 Z" fill="#5a5a5a"/>
<path d="M473.6 5 V15" stroke="#2a6ab8" stroke-width="1.2"/><path d="M479.5 10.4 H475 M477.3 8.4 L475 10.4 L477.3 12.4" fill="none" stroke="#d03a10" stroke-width="1.2"/>
<rect class="px" x="488" y="0" width="1" height="21" fill="#a0a0a0"/>
<path d="M499.5 3.5 H506.5 L509.5 6.5 V15.5 a1 1 0 0 1 -1 1 H499.5 a1 1 0 0 1 -1 -1 V4.5 a1 1 0 0 1 1 -1 Z" fill="#fff" stroke="#8c8c8c"/><path d="M503.5 7 q-1.8 -.5 -1.8 1.6 V14 M500.4 10 H503.6" fill="none" stroke="#555" stroke-width="1"/>
<path d="M506.3 9 H510.1 V13 H514.1 V16.8 H510.1 V20.8 H506.3 V16.8 H502.3 V13 H506.3 Z" fill="url(#gGreen)" stroke="#0b8a0b" stroke-width=".8"/>
<polygon points="520,10 525.5,10 522.75,13" fill="#000"/>
<circle cx="544" cy="10.8" r="8" fill="url(#gBlue)"/><circle cx="544" cy="10.8" r="5.2" fill="#f2f6fb"/><path d="M544 7 V11 H547" fill="none" stroke="#444" stroke-width="1.1"/>
<polygon points="559,10 564.5,10 561.75,13" fill="#000"/>
<rect x="575.5" y="4.5" width="15" height="13.5" fill="#fff" stroke="#3a78d0" stroke-width="1.4"/><rect x="575" y="4" width="16" height="2.6" fill="#3a78d0"/><path d="M576 12.3 H590" stroke="#3a78d0" stroke-width="1"/><path d="M577.5 10.5 l3 -1.3 l2.5 .6 l2.5 -1.6 l2.5 .4" fill="none" stroke="#b03a1a" stroke-width="1.2"/><path d="M577.5 15.8 l3 -.8 l2.5 .6 l2.5 -1.8 l2.5 1.8" fill="none" stroke="#1e9a2a" stroke-width="1.2"/>
<polygon points="598,10 603.5,10 600.75,13" fill="#000"/>
<rect class="px" x="609" y="0" width="1" height="23" fill="#a0a0a0"/>
<rect class="px" x="613" y="1" width="3" height="1" fill="#a8a8a8"/>
<rect class="px" x="613" y="3" width="3" height="1" fill="#a8a8a8"/>
<rect class="px" x="613" y="5" width="3" height="1" fill="#a8a8a8"/>
<rect class="px" x="613" y="7" width="3" height="1" fill="#a8a8a8"/>
<rect class="px" x="613" y="9" width="3" height="1" fill="#a8a8a8"/>
<rect class="px" x="613" y="11" width="3" height="1" fill="#a8a8a8"/>
<rect class="px" x="613" y="13" width="3" height="1" fill="#a8a8a8"/>
<rect class="px" x="613" y="15" width="3" height="1" fill="#a8a8a8"/>
<rect class="px" x="613" y="17" width="3" height="1" fill="#a8a8a8"/>
<rect class="px" x="613" y="19" width="3" height="1" fill="#a8a8a8"/>
<rect class="px" x="619" y="1" width="1" height="20" fill="#a8a8a8"/>
<rect class="px" x="620" y="1" width="24" height="20" fill="#fafafa"/>
<path d="M627.2 3.7 V15.3 L630 12.6 L632.4 17.6 L634.4 16.6 L632 11.8 H635.8 Z" fill="#5a5a5a"/>
<path d="M652 11.5 H658 M661 11.5 H667 M659.5 4 V10 M659.5 13 V19" stroke="#5a5a5a" stroke-width="1"/><rect x="659" y="11" width="1" height="1" fill="#5a5a5a"/>
<rect class="px" x="676" y="0" width="1" height="21" fill="#a0a0a0"/>
<path d="M693.5 5 V18" stroke="#5a5a5a" stroke-width="1"/><path d="M716 11.5 H728" stroke="#5a5a5a" stroke-width="1"/>
<path d="M743.6 17.6 L756 5.6" stroke="#5a5a5a" stroke-width="1.2"/>
<g stroke="#5a5a5a" stroke-width="1.1" fill="none"><path d="M769.8 13.3 L780.5 4.8 M771.5 17.3 L784 8.7"/><path d="M772.2 18.2 L774.4 7 M776.2 15.4 L778.4 4.2 M780.2 12.4 L782.4 2.4" stroke-width=".9"/></g>
<text x="780.6" y="19.8" font-size="6.5" font-weight="bold" fill="#444">E</text>
<line class="px" x1="799" x2="812" y1="4.5" y2="4.5" stroke="#5a5a5a" stroke-width="1" stroke-dasharray="1 1"/>
<line class="px" x1="799" x2="812" y1="8.5" y2="8.5" stroke="#5a5a5a" stroke-width="1" stroke-dasharray="1 1"/>
<line class="px" x1="799" x2="812" y1="11.5" y2="11.5" stroke="#5a5a5a" stroke-width="1" stroke-dasharray="1 1"/>
<line class="px" x1="799" x2="812" y1="15.5" y2="15.5" stroke="#5a5a5a" stroke-width="1" stroke-dasharray="1 1"/>
<rect x="806.5" y="13" width="7" height="8" fill="#f0f0f0"/><text x="808.6" y="19.8" font-size="6.5" font-weight="bold" fill="#444">F</text>
<text x="829.6" y="15.6" font-size="11.8" fill="#5a5a5a" stroke="#5a5a5a" stroke-width=".35">A</text>
<path class="px" d="M855 5.5 H868 M855 17.5 H868 M855.5 5 V18 M867.5 5 V18" fill="none" stroke="#5a5a5a" stroke-width="1" stroke-dasharray="1 1"/><text x="858" y="16" font-size="11.2" font-weight="bold" fill="#5a5a5a" textLength="8" lengthAdjust="spacingAndGlyphs">T</text>
<path d="M886.8 5.2 L890.4 8.6 L888.6 9.6 H885 L883.2 8.6 Z M893.7 17.8 L890.1 14.4 L891.9 13.4 H895.5 L897.3 14.4 Z" fill="#444"/><path d="M885.2 12.6 L887.4 14.8 L892.2 8.8" fill="none" stroke="#444" stroke-width="1.4"/>
<polygon points="904,10 909.5,10 906.75,13" fill="#000"/>
<rect class="px" x="915" y="0" width="1" height="23" fill="#a0a0a0"/>
<rect class="px" x="919" y="1" width="3" height="1" fill="#a8a8a8"/>
<rect class="px" x="919" y="3" width="3" height="1" fill="#a8a8a8"/>
<rect class="px" x="919" y="5" width="3" height="1" fill="#a8a8a8"/>
<rect class="px" x="919" y="7" width="3" height="1" fill="#a8a8a8"/>
<rect class="px" x="919" y="9" width="3" height="1" fill="#a8a8a8"/>
<rect class="px" x="919" y="11" width="3" height="1" fill="#a8a8a8"/>
<rect class="px" x="919" y="13" width="3" height="1" fill="#a8a8a8"/>
<rect class="px" x="919" y="15" width="3" height="1" fill="#a8a8a8"/>
<rect class="px" x="919" y="17" width="3" height="1" fill="#a8a8a8"/>
<rect class="px" x="919" y="19" width="3" height="1" fill="#a8a8a8"/>
<rect class="px" x="1065" y="0" width="1" height="21" fill="#a0a0a0"/>
<rect class="px" x="1066" y="1" width="24" height="20" fill="#fafafa"/>
<text class="s" x="930.5" y="15" font-size="9.33" fill="#444" textLength="12.8" lengthAdjust="spacingAndGlyphs" text-anchor="start">M1</text>
<text class="s" x="958" y="15" font-size="9.33" fill="#444" textLength="12.8" lengthAdjust="spacingAndGlyphs" text-anchor="start">M5</text>
<text class="s" x="984.6" y="15" font-size="9.33" fill="#444" textLength="17.4" lengthAdjust="spacingAndGlyphs" text-anchor="start">M15</text>
<text class="s" x="1012.3" y="15" font-size="9.33" fill="#444" textLength="17.8" lengthAdjust="spacingAndGlyphs" text-anchor="start">M30</text>
<text class="s" x="1043.3" y="15" font-size="9.33" fill="#444" textLength="11.8" lengthAdjust="spacingAndGlyphs" text-anchor="start">H1</text>
<text class="s" x="1070.6" y="15" font-size="9.33" fill="#444" textLength="12.6" lengthAdjust="spacingAndGlyphs" text-anchor="start">H4</text>
<text class="s" x="1099.3" y="15" font-size="9.33" fill="#444" textLength="11.8" lengthAdjust="spacingAndGlyphs" text-anchor="start">D1</text>
<text class="s" x="1126.6" y="15" font-size="9.33" fill="#444" textLength="14.3" lengthAdjust="spacingAndGlyphs" text-anchor="start">W1</text>
<text class="s" x="1153.8" y="15" font-size="9.33" fill="#444" textLength="14.8" lengthAdjust="spacingAndGlyphs" text-anchor="start">MN</text>
<rect class="px" x="1176" y="0" width="1" height="21" fill="#a0a0a0"/>
<path d="M1643 12 L1638.6 16.4" stroke="#2a5fb0" stroke-width="2.2" stroke-linecap="round"/><circle cx="1646.5" cy="8.5" r="4.2" fill="#e8f2fc" stroke="#2a6ac8" stroke-width="1.7"/>
<path d="M1669.5 8.5 c4.2 0 7 2 7 4.6 c0 2.6 -2.8 4.6 -7 4.6 c-.6 0 -1.2 0 -1.8 -.1 l-2.4 1.9 l.3 -2.6 c-1.9 -.8 -3.1 -2.2 -3.1 -3.8 c0 -2.6 2.8 -4.6 7 -4.6 Z" fill="#e9edf2" stroke="#b9bec6" stroke-width=".8"/>
<circle cx="1677.9" cy="8.6" r="8.1" fill="url(#gRed)"/><text x="1677.6" y="13" font-size="12.5" fill="#fff" stroke="#fff" stroke-width=".45" text-anchor="middle">1</text>
</svg>
</body></html>
